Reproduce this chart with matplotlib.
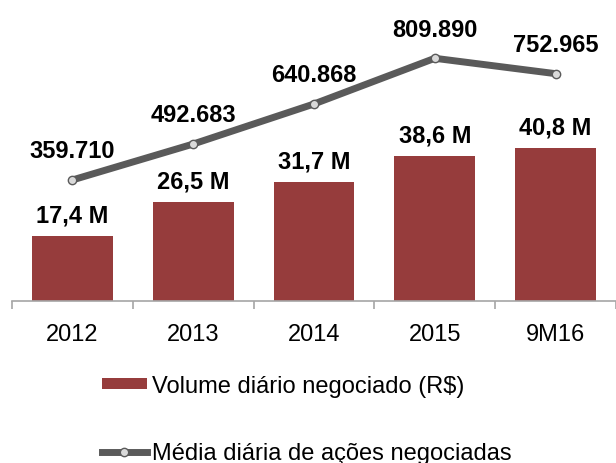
import matplotlib
matplotlib.use("Agg")
import matplotlib.pyplot as plt
from matplotlib.lines import Line2D
from matplotlib.patches import Patch
import numpy as np

plt.rcParams['font.family'] = ['Liberation Sans', 'DejaVu Sans']

categories = ["2012", "2013", "2014", "2015", "9M16"]
volume_musd = [17.4, 26.5, 31.7, 38.6, 40.8]
volume_labels = ["17,4 M", "26,5 M", "31,7 M", "38,6 M", "40,8 M"]
avg_trades = [359710, 492683, 640868, 809890, 752965]
avg_labels = ["359.710", "492.683", "640.868", "809.890", "752.965"]

bar_color = "#963C3C"
line_color = "#5A5A5A"
FS = 17

W, H = 616, 464
fig = plt.figure(figsize=(W / 100, H / 100), dpi=100)
ax = fig.add_axes([12 / W, 1 - 302 / H, 604 / W, 292 / H])

x = np.arange(len(categories))
ax.bar(x, volume_musd, width=0.67, color=bar_color, zorder=2)
ax.set_xlim(-0.5, len(categories) - 0.5)
ax.set_ylim(0, 77.9)

for xi, v, lab in zip(x, volume_musd, volume_labels):
    ax.annotate(lab, (xi, v), xytext=(0, 15), textcoords="offset points",
                ha="center", va="center", fontsize=FS, fontweight="bold")

for s in ["left", "right", "top"]:
    ax.spines[s].set_visible(False)
ax.spines["bottom"].set_color("#A6A6A6")
ax.spines["bottom"].set_linewidth(1.2)
ax.set_yticks([])
ax.set_xticks(x)
ax.set_xticklabels(categories, fontsize=FS)
ax.tick_params(axis="x", which="major", length=0, pad=16)
ax.set_xticks(np.arange(-0.5, len(categories) + 0.5, 1), minor=True)
ax.tick_params(axis="x", which="minor", length=6, color="#A6A6A6", width=1.2)

ax2 = ax.twinx()
ax2.set_ylim(-88050, 992230)
ax2.plot(x, avg_trades, color=line_color, linewidth=5, marker="o",
         markersize=6, markerfacecolor="#D9D9D9", markeredgecolor=line_color,
         markeredgewidth=1, solid_capstyle="round", zorder=3)
for xi, v, lab in zip(x, avg_trades, avg_labels):
    ax2.annotate(lab, (xi, v), xytext=(0, 21), textcoords="offset points",
                 ha="center", va="center", fontsize=FS, fontweight="bold")
ax2.axis("off")

handles = [
    Patch(facecolor=bar_color, edgecolor="none"),
    Line2D([], [], color=line_color, linewidth=5, marker="o", markersize=6,
           markerfacecolor="#D9D9D9", markeredgecolor=line_color, markeredgewidth=1),
]
labels = ["Volume diário negociado (R$)", "Média diária de ações negociadas"]
fig.legend(handles, labels, loc="upper left", bbox_to_anchor=(102 / W, 1 - 376 / H),
           frameon=False, fontsize=FS, borderpad=0, borderaxespad=0,
           handlelength=1.9, handleheight=0.35, handletextpad=0.2,
           labelspacing=1.9, numpoints=1)

fig.savefig("out.png", dpi=100)
